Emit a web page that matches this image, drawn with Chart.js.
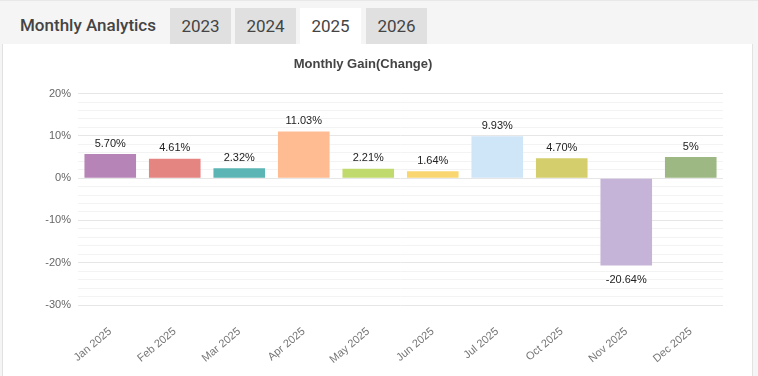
<!DOCTYPE html>
<html>
<head>
<meta charset="utf-8">
<script src="https://cdn.jsdelivr.net/npm/chart.js@4"></script>
<style>
    body { margin: 0; background: #f5f5f5; font-family: Roboto, sans-serif; }
    .header { position: absolute; left: 0; top: 0; width: 758px; height: 44px; border-top: 1px solid #e8e8e8; box-sizing: border-box; }
    .header .name { position: absolute; left: 20px; top: 14px; font-size: 17px; font-weight: 500; color: #444; }
    .tab { position: absolute; top: 7px; height: 37px; width: 61px; background: #e0e0e0; color: #444; font-size: 17px; text-align: center; line-height: 36px; }
    .tab.active { background: #fff; }
    .panel { position: absolute; left: 2px; top: 44px; width: 749px; height: 332px; background: #fff; border-left: 1px solid #e2e2e2; border-right: 1px solid #e2e2e2; }
    #chartWrap { position: absolute; left: 0; top: 0; width: 749px; height: 332px; }
</style>
</head>
<body>
<div class="header">
    <div class="name">Monthly Analytics</div>
    <div class="tab" style="left:170px">2023</div>
    <div class="tab" style="left:235px">2024</div>
    <div class="tab active" style="left:300px">2025</div>
    <div class="tab" style="left:366px">2026</div>
</div>
<div class="panel">
    <div id="chartWrap"><canvas id="gainChart"></canvas></div>
</div>
<script>
const months = ['Jan 2025', 'Feb 2025', 'Mar 2025', 'Apr 2025', 'May 2025', 'Jun 2025', 'Jul 2025', 'Oct 2025', 'Nov 2025', 'Dec 2025'];
const gains = [5.70, 4.61, 2.32, 11.03, 2.21, 1.64, 9.93, 4.70, -20.64, 5];
const gainLabels = ['5.70%', '4.61%', '2.32%', '11.03%', '2.21%', '1.64%', '9.93%', '4.70%', '-20.64%', '5%'];
const barColors = ['#b784b7', '#e48582', '#5bb5b5', '#ffbb91', '#c1da6e', '#f9d66f', '#cfe5f8', '#d4cf6c', '#c5b4d8', '#9db882'];

// draw value text above / below each bar
const valueLabels = {
    id: 'valueLabels',
    afterDatasetsDraw(chart) {
        const ctx = chart.ctx;
        const meta = chart.getDatasetMeta(0);
        ctx.save();
        ctx.font = '11px "Liberation Sans", Arial, sans-serif';
        ctx.fillStyle = '#222';
        ctx.textAlign = 'center';
        meta.data.forEach((bar, i) => {
            if (gains[i] >= 0) {
                ctx.textBaseline = 'bottom';
                ctx.fillText(gainLabels[i], bar.x, bar.y - 5);
            } else {
                ctx.textBaseline = 'top';
                ctx.fillText(gainLabels[i], bar.x, bar.y + 9);
            }
        });
        ctx.restore();
    }
};

new Chart(document.getElementById('gainChart'), {
    type: 'bar',
    data: {
        labels: months,
        datasets: [{
            data: gains,
            backgroundColor: barColors,
            borderWidth: 0,
            categoryPercentage: 0.8,
            barPercentage: 1
        }]
    },
    options: {
        responsive: true,
        maintainAspectRatio: false,
        animation: false,
        layout: { padding: { right: 29, bottom: 0 } },
        plugins: {
            legend: { display: false },
            tooltip: { enabled: false },
            title: {
                display: true,
                text: 'Monthly Gain(Change)',
                color: '#444',
                font: { family: '"Liberation Sans", Arial, sans-serif', size: 13, weight: 'bold' },
                padding: { top: 13, bottom: 21 }
            }
        },
        scales: {
            y: {
                min: -30,
                max: 20,
                afterFit: scale => { scale.width = 75; },
                border: { display: false },
                grid: {
                    drawTicks: false,
                    color: c => (c.tick && c.tick.value % 10 === 0) ? '#e6e6e6' : '#f3f3f3'
                },
                ticks: {
                    stepSize: 2,
                    autoSkip: false,
                    padding: 7,
                    color: '#666',
                    font: { family: '"Liberation Sans", Arial, sans-serif', size: 11 },
                    callback: v => (v % 10 === 0 ? v + '%' : '')
                }
            },
            x: {
                afterFit: scale => { scale.height = 71; },
                border: { display: false },
                grid: { display: false },
                ticks: {
                    minRotation: 40,
                    maxRotation: 40,
                    padding: 12,
                    color: '#777',
                    font: { family: '"Liberation Sans", Arial, sans-serif', size: 11 }
                }
            }
        }
    },
    plugins: [valueLabels]
});
</script>
</body>
</html>
